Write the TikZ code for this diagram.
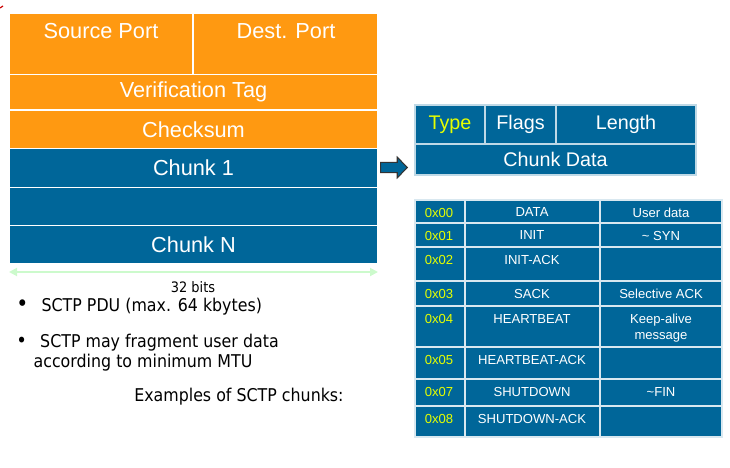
\documentclass[tikz,border=0pt]{standalone}
\usepackage{fontspec}
\setmainfont{Liberation Sans}
\newfontfamily\tahoma[FakeStretch=0.9]{DejaVu Sans}
\usetikzlibrary{shapes.arrows,arrows.meta}
\definecolor{pduorange}{RGB}{255,153,17}
\definecolor{pdublue}{RGB}{0,102,153}
\definecolor{hexyellow}{RGB}{230,255,0}
\definecolor{dimgreen}{RGB}{204,250,204}
\begin{document}
\begin{tikzpicture}[x=0.75pt, y=-0.75pt,
    span/.style 2 args={minimum width=#1*0.75pt, minimum height=#2*0.75pt},
    field/.style={draw=white, line width=0.9pt, inner sep=0pt, text=white,
                  font=\fontsize{16.3}{18}\selectfont},
    hdr/.style={field, draw=white!75!pdublue, fill=pdublue,
                font=\fontsize{14.8}{17}\selectfont},
    cell/.style={fill=pdublue, draw=white!85!pdublue, line width=1pt},
    celltext/.style={text=white, inner sep=0pt, align=center,
                     font=\fontsize{9.8}{12}\selectfont},
    hextext/.style={celltext, text=hexyellow},
    bullettext/.style={anchor=west, inner sep=0pt, align=left,
                       font=\tahoma\fontsize{13.2}{15}\selectfont},
  ]
    \useasboundingbox (0,0) rectangle (730,467);
    % stray red mark in the corner
    \draw[red!80!black, line width=0.9pt] (0,8) -- (3,6);

    % SCTP packet
    \node[field, fill=pduorange, span={184}{61.5}] (srcport) at (101,43.75) {};
    \node[field, fill=pduorange, span={185}{61.5}] (dstport) at (285.5,43.75) {};
    \node[text=white, font=\fontsize{16.3}{18}\selectfont] (srctxt) at (101,31) {Source Port};
    \node[text=white, font=\fontsize{16.3}{18}\selectfont] (dsttxt) at (286,31) {Dest. Port};
    \node[field, fill=pduorange, span={369}{35.5}] (vtag) at (193.5,92.25) {Verification Tag};
    \node[field, fill=pduorange, span={369}{38.5}] (csum) at (193.5,129.25) {Checksum};
    \node[field, fill=pdublue, span={369}{39}] (chunk1) at (193.5,168) {Chunk 1};
    \node[field, fill=pdublue, span={369}{38}] (chunkmid) at (193.5,206.5) {};
    \node[field, fill=pdublue, span={369}{38}] (chunkn) at (193.5,244.5) {Chunk N};

    % width
    \coordinate (wl) at (9,272);
    \coordinate (wr) at (378,272);
    \draw[dimgreen, line width=1.4pt, {Triangle[length=6pt,width=6pt]}-{Triangle[length=6pt,width=6pt]}] (wl) -- (wr);
    \node[font=\tahoma\fontsize{10.8}{12}\selectfont] (bits) at (193,287) {32 bits};

    % notes
    \node[bullettext] (b1) at (16,307)
      {{\fontsize{17}{17}\selectfont\textbullet}\hspace{10pt}SCTP PDU (max. 64 kbytes)};
    \node[bullettext, anchor=north west] (b2) at (16,334)
      {{\fontsize{15}{15}\selectfont\textbullet}\hspace{10pt}SCTP may fragment user data\\\hspace{13pt}according to minimum MTU};
    \node[bullettext] (examples) at (134,397) {Examples of SCTP chunks:};

    % chunk format
    \node[single arrow, draw=black!80, fill=pdublue, line width=0.8pt,
          minimum height=20pt, minimum width=15.5pt, inner sep=3.4pt,
          single arrow head extend=4pt, single arrow tip angle=92] (ptr) at (391.5,167.5) {};
    \node[hdr, span={70}{39}, text=hexyellow] (type) at (450,124.5) {Type};
    \node[hdr, span={71}{39}] (flags) at (520.5,124.5) {Flags};
    \node[hdr, span={140}{39}] (length) at (626,124.5) {Length};
    \node[hdr, span={281}{31}] (cdata) at (555.5,159.5) {Chunk Data};

    % chunk types
    \foreach \top/\bot/\code/\kind/\note [count=\i] in {
        200/223/0x00/DATA/User data,
        223/247/0x01/INIT/\textasciitilde\ SYN,
        247/281/0x02/INIT-ACK/,
        281/306/0x03/SACK/Selective ACK,
        306/347/0x04/HEARTBEAT/Keep-alive\\message,
        347/379/0x05/HEARTBEAT-ACK/,
        379/406/0x07/SHUTDOWN/\textasciitilde FIN,
        406/437/0x08/SHUTDOWN-ACK/} {
      \draw[cell] (415,\top) rectangle (465,\bot);
      \draw[cell] (465,\top) rectangle (600,\bot);
      \draw[cell] (600,\top) rectangle (722,\bot);
      \node[hextext] (code\i) at (439,{\top+12.5}) {\code};
      \node[celltext] (kind\i) at (532,{\top+12.5}) {\kind};
      \node[celltext, anchor=north] (note\i) at (661,{\top+8}) {\note};
    }
  \end{tikzpicture}
\end{document}
